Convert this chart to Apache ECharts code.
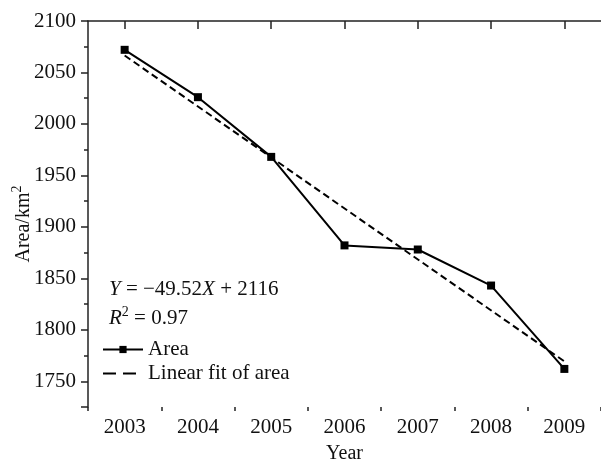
<!DOCTYPE html>
<html>
<head>
<meta charset="utf-8">
<script src="https://cdn.jsdelivr.net/npm/echarts@6/dist/echarts.min.js"></script>
<style>
  html, body { margin: 0; padding: 0; background: #fff; }
  #chart { width: 601px; height: 460px; }
</style>
</head>
<body>
<div id="chart"></div>
<script>
// Lake area by year (km²)
const years = ['2003', '2004', '2005', '2006', '2007', '2008', '2009'];
const areaValues = [2072, 2026, 1968, 1882, 1878, 1843, 1762];

// Linear fit printed on the chart: Y = -49.52X + 2116 (X = 1 for 2003)
const fitSlope = -49.52;
const fitIntercept = 2116;

// Labelled y ticks
const yTickLabels = [1750, 1800, 1850, 1900, 1950, 2000, 2050, 2100];

const FONT = '"Liberation Serif", "Times New Roman", serif';
const INK = '#111';

const fitStart = fitSlope * 1 + fitIntercept;
const fitEnd = fitSlope * years.length + fitIntercept;

const chart = echarts.init(document.getElementById('chart'), null, { renderer: 'canvas' });

chart.setOption({
  animation: false,
  backgroundColor: '#fff',
  grid: { left: 88, right: 0, top: 21, bottom: 53, containLabel: false, outerBoundsMode: 'none' },
  xAxis: [
    {
      type: 'category',
      data: years,
      boundaryGap: true,
      position: 'bottom',
      name: 'Year',
      nameLocation: 'middle',
      nameGap: 37,
      nameMoveOverlap: false,
      nameTextStyle: { fontFamily: FONT, fontSize: 20, color: INK },
      axisLine: { show: true, lineStyle: { color: '#222', width: 1.5 } },
      axisTick: { show: true, alignWithLabel: true, interval: 0, length: 8, lineStyle: { color: '#222', width: 1.5 } },
      axisLabel: { interval: 0, margin: 10, fontFamily: FONT, fontSize: 21, color: INK },
      splitLine: { show: false }
    },
    {
      // half-year minor ticks at band edges
      type: 'category',
      data: years,
      boundaryGap: true,
      position: 'bottom',
      axisLine: { show: false },
      axisTick: { show: true, alignWithLabel: false, interval: 0, length: 4, lineStyle: { color: '#222', width: 1.5 } },
      axisLabel: { show: false },
      splitLine: { show: false }
    }
  ],
  yAxis: [
    {
      type: 'value',
      min: 1725,
      max: 2100,
      interval: 25,
      position: 'left',
      name: '{t|Area/km}{s|2}',
      nameLocation: 'middle',
      nameGap: 54,
      nameRotate: 90,
      nameMoveOverlap: false,
      nameTextStyle: {
        padding: [0, 20, 0, 0],
        rich: {
          t: { fontFamily: FONT, fontSize: 20, color: INK, lineHeight: 24, verticalAlign: 'bottom' },
          s: { fontFamily: FONT, fontSize: 14, color: INK, lineHeight: 14, verticalAlign: 'top' }
        }
      },
      axisLine: { show: true, lineStyle: { color: '#222', width: 1.5 } },
      axisTick: { show: true, length: 4, lineStyle: { color: '#222', width: 1.5 } },
      axisLabel: {
        margin: 12,
        fontFamily: FONT,
        fontSize: 21,
        color: INK,
        formatter: v => (yTickLabels.includes(v) ? String(v) : '')
      },
      splitLine: { show: false }
    },
    {
      // longer major ticks every 50 km², counted down from the top
      type: 'value',
      min: 0,
      max: 375,
      interval: 50,
      inverse: true,
      position: 'left',
      axisLine: { show: false },
      axisTick: { show: true, length: 7, lineStyle: { color: '#222', width: 1.5 } },
      axisLabel: { show: false },
      splitLine: { show: false }
    }
  ],
  legend: {
    orient: 'vertical',
    left: 102,
    top: 339,
    padding: 0,
    itemWidth: 40,
    itemHeight: 9,
    itemGap: 3,
    textStyle: { fontFamily: FONT, fontSize: 21, color: INK },
    data: [
      { name: 'Area' },
      {
        name: 'Linear fit of area',
        lineStyle: { type: [13, 7], width: 2, color: '#000' },
        itemStyle: { color: 'transparent', borderColor: 'transparent', borderWidth: 0 }
      }
    ]
  },
  graphic: [
    {
      type: 'text',
      left: 109,
      top: 279,
      style: {
        text: '{i|Y} = −49.52{i|X} + 2116',
        fill: INK,
        font: '21px ' + FONT,
        rich: {
          i: { fontStyle: 'italic', fontFamily: FONT, fontSize: 21, fill: INK }
        }
      }
    },
    {
      type: 'text',
      left: 109,
      top: 305,
      style: {
        text: '{i|R}{s|2}{n| = 0.97}',
        fill: INK,
        font: '21px ' + FONT,
        rich: {
          i: { fontStyle: 'italic', fontFamily: FONT, fontSize: 21, fill: INK, lineHeight: 24, verticalAlign: 'bottom' },
          s: { fontFamily: FONT, fontSize: 14, fill: INK, lineHeight: 14, verticalAlign: 'top' },
          n: { fontFamily: FONT, fontSize: 21, fill: INK, lineHeight: 24, verticalAlign: 'bottom' }
        }
      }
    }
  ],
  series: [
    {
      name: 'Linear fit of area',
      type: 'line',
      xAxisIndex: 0,
      yAxisIndex: 0,
      data: [[0, fitStart], [years.length - 1, fitEnd]],
      symbol: 'none',
      lineStyle: { color: '#000', width: 2, type: [7, 4] },
      itemStyle: { color: '#000' },
      z: 2
    },
    {
      name: 'Area',
      type: 'line',
      xAxisIndex: 0,
      yAxisIndex: 0,
      data: areaValues,
      symbol: 'rect',
      symbolSize: 8,
      lineStyle: { color: '#000', width: 2 },
      itemStyle: { color: '#000' },
      z: 3
    }
  ]
});
</script>
</body>
</html>
